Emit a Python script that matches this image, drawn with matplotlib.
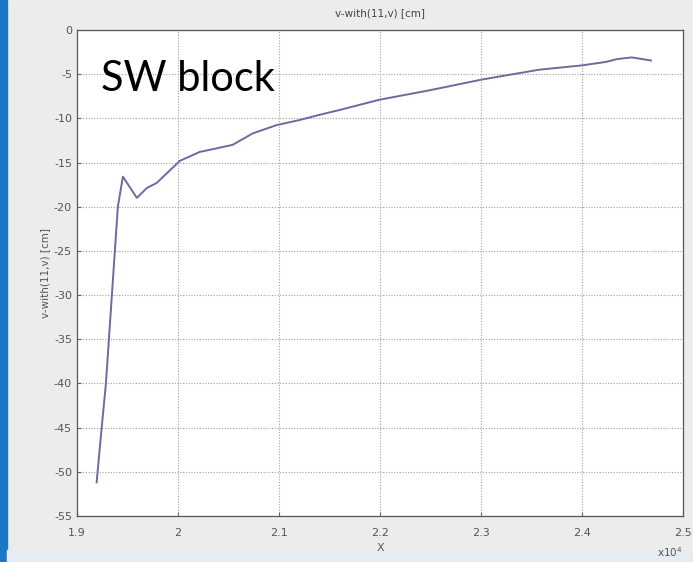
import matplotlib.pyplot as plt
from matplotlib.patches import Rectangle

plt.rcParams['axes.unicode_minus'] = False

# values (x in units of 1e4)
x = [1.9195, 1.9245, 1.9287, 1.9405, 1.9455, 1.9593, 1.969, 1.979, 2.002,
     2.0215, 2.038, 2.054, 2.074, 2.098, 2.12, 2.14, 2.16, 2.199, 2.25,
     2.301, 2.357, 2.40, 2.424, 2.434, 2.449, 2.468]
y = [-51.2, -45.0, -40.0, -20.0, -16.6, -19.0, -17.9, -17.3, -14.8,
     -13.8, -13.4, -13.0, -11.7, -10.75, -10.2, -9.6, -9.05, -7.9, -6.8,
     -5.6, -4.5, -4.0, -3.6, -3.3, -3.1, -3.45]
xticks = [1.9, 2.0, 2.1, 2.2, 2.3, 2.4, 2.5]
xticklabels = ['1.9', '2', '2.1', '2.2', '2.3', '2.4', '2.5']
yticks = [0, -5, -10, -15, -20, -25, -30, -35, -40, -45, -50, -55]

fig = plt.figure(figsize=(6.93, 5.62), dpi=100)
fig.patch.set_facecolor('#ececec')

# blue slide edge on the left and pale band at the bottom
fig.add_artist(Rectangle((0, 0), 7 / 693, 1, transform=fig.transFigure,
                         color='#1a78c8', zorder=0))
fig.add_artist(Rectangle((7 / 693, 0), 1, 12 / 562, transform=fig.transFigure,
                         color='#e6ecf2', zorder=0))

ax = fig.add_axes([0.111, 0.082, 0.875, 0.8646])
ax.plot(x, y, color='#6b6ba0', lw=1.4)

ax.set_xlim(1.9, 2.5)
ax.set_ylim(-55, 0)
ax.set_xticks(xticks)
ax.set_xticklabels(xticklabels)
ax.set_yticks(yticks)
ax.tick_params(direction='in', length=3, labelsize=8, labelcolor='#555555',
               color='#666666')
ax.tick_params(axis='x', pad=9)
ax.grid(True, linestyle=(0, (1, 1.5)), color='#a0a0a0', lw=0.8)
for s in ax.spines.values():
    s.set_color('#555555')
    s.set_linewidth(0.9)

ax.set_title('v-with(11,v) [cm]', fontsize=7.5, color='#444444', pad=10)
ax.set_xlabel('X', fontsize=8, color='#555555', labelpad=3)
ax.set_ylabel('v-with(11,v) [cm]', fontsize=7.5, color='#555555', labelpad=3)
fig.text(0.985, 3 / 562, 'x10$^4$', ha='right', va='bottom',
         fontsize=7.5, color='#555555')

ax.text(0.04, 0.875, 'SW block', transform=ax.transAxes, fontsize=30,
        family=['Lato', 'DejaVu Sans'], color='black')

fig.savefig('out.png', dpi=100, facecolor=fig.get_facecolor())
